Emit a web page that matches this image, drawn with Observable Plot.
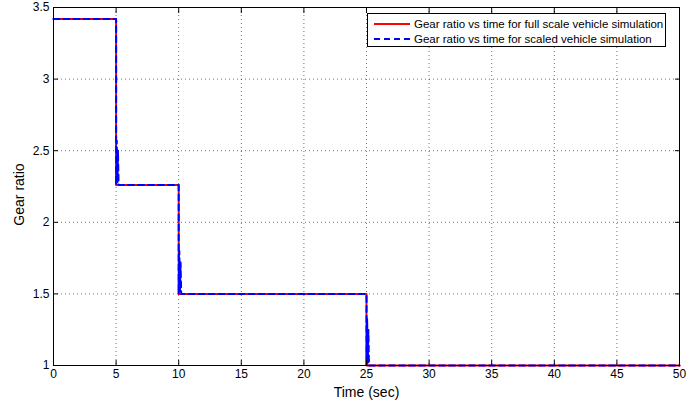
<!DOCTYPE html>
<html><head><meta charset="utf-8">
<script src="https://cdn.jsdelivr.net/npm/d3@7"></script>
<script src="https://cdn.jsdelivr.net/npm/@observablehq/plot@0.6"></script>
<style>
body{margin:0;background:#fff;}
#wrap{position:relative;width:687px;height:405px;overflow:hidden;}
#legend{position:absolute;left:367px;top:13px;width:299px;height:34px;border:1px solid #000;background:#fff;box-sizing:border-box;font:11.5px "Liberation Sans",Arial,sans-serif;color:#000;}
.row{position:absolute;left:6px;height:14px;display:flex;align-items:center;white-space:nowrap;}
.row svg{margin-right:4px;}
</style>
</head><body>
<div id="wrap"></div>
<script>
// Full scale vehicle simulation (red, solid)
const fullTime  = [0, 5, 5, 10, 10, 25, 25, 50];
const fullRatio = [3.42, 3.42, 2.26, 2.26, 1.5, 1.5, 1.0, 1.0];
// Scaled vehicle simulation (blue, dashed) with short oscillation after each shift
const scaledTime  = [0, 5, 5, 5.05, 5.1, 5.15, 5.2, 10, 10, 10.05, 10.1, 10.15, 10.2, 25, 25, 25.05, 25.1, 25.15, 25.2, 50];
const scaledRatio = [3.42, 3.42, 2.26, 2.57, 2.28, 2.5, 2.26, 2.26, 1.5, 1.8, 1.52, 1.72, 1.5, 1.5, 1.0, 1.33, 1.02, 1.25, 1.0, 1.0];

const xTicks = d3.range(0, 51, 5);
const yTicks = [1, 1.5, 2, 2.5, 3, 3.5];
const legendLabels = ["Gear ratio vs time for full scale vehicle simulation",
                      "Gear ratio vs time for scaled vehicle simulation"];
const xLabel = "Time (sec)";
const yLabel = "Gear ratio";

const full = fullTime.map((t, i) => ({t, v: fullRatio[i]}));
const scaled = scaledTime.map((t, i) => ({t, v: scaledRatio[i]}));

const chart = Plot.plot({
  width: 687, height: 405,
  marginLeft: 53, marginRight: 8, marginTop: 7, marginBottom: 40,
  style: {fontFamily: "'Liberation Sans', Arial, sans-serif", fontSize: "12px", background: "white", color: "black"},
  x: {domain: [0, 50]},
  y: {domain: [1, 3.5]},
  marks: [
    Plot.ruleX(xTicks.slice(1, -1), {stroke: "#000", strokeOpacity: 0.55, strokeDasharray: "1,3"}),
    Plot.ruleY(yTicks.slice(1, -1), {stroke: "#000", strokeOpacity: 0.55, strokeDasharray: "1,3"}),
    Plot.line(full, {x: "t", y: "v", stroke: "#ff0000", strokeWidth: 2, curve: "linear"}),
    Plot.line(scaled, {x: "t", y: "v", stroke: "#0000ff", strokeWidth: 2, strokeDasharray: "6,4", curve: "linear"}),
    Plot.frame({stroke: "#000", strokeWidth: 1}),
    Plot.axisX(xTicks, {anchor: "bottom", tickSize: -5, tickFormat: () => "", label: null}),
    Plot.axisX(xTicks, {anchor: "top", tickSize: -5, tickFormat: () => "", label: null}),
    Plot.axisY(yTicks, {anchor: "left", tickSize: -5, tickFormat: () => "", label: null}),
    Plot.axisY(yTicks, {anchor: "right", tickSize: -5, tickFormat: () => "", label: null}),
    Plot.axisX(xTicks, {anchor: "bottom", tickSize: 0, tickPadding: 4, label: null, tickFormat: d => String(d)}),
    Plot.axisY(yTicks, {anchor: "left", tickSize: 0, tickPadding: 4, label: null, tickFormat: d => String(d)}),
    Plot.text([xLabel], {frameAnchor: "bottom", lineAnchor: "middle", textAnchor: "middle", dy: 27, text: d => d, fontSize: 14}),
    Plot.text([yLabel], {frameAnchor: "left", lineAnchor: "middle", textAnchor: "middle", dx: -34, dy: 8, rotate: -90, text: d => d, fontSize: 14})
  ]
});
const wrap = document.getElementById("wrap");
wrap.appendChild(chart);

const legend = document.createElement("div");
legend.id = "legend";
const styles = [{stroke: "#ff0000", dash: null}, {stroke: "#0000ff", dash: "6,4"}];
legendLabels.forEach((lab, i) => {
  const row = document.createElement("div");
  row.className = "row";
  row.style.top = (3 + i * 15) + "px";
  const s = styles[i];
  row.innerHTML = `<svg width="36" height="6"><line x1="0" y1="3" x2="36" y2="3" stroke="${s.stroke}" stroke-width="2" ${s.dash ? `stroke-dasharray="${s.dash}"` : ""}/></svg><span>${lab}</span>`;
  legend.appendChild(row);
});
wrap.appendChild(legend);
</script>
</body></html>
